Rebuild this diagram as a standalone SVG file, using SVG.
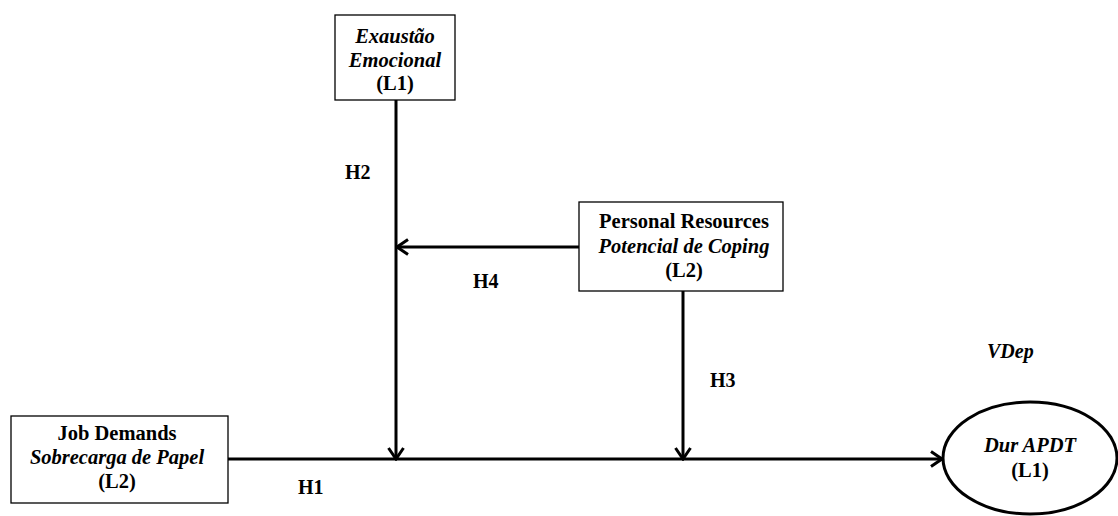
<svg xmlns="http://www.w3.org/2000/svg" width="1118" height="516" viewBox="0 0 1118 516">
<style>
.box{fill:#fff;stroke:#000;stroke-width:1.3}
.t{font-family:"Liberation Serif",serif;font-size:20.5px;font-weight:bold;text-anchor:middle;fill:#000}
.i{font-style:italic}
.ln{stroke:#000;stroke-width:3;fill:none}
.lbl{font-family:"Liberation Serif",serif;font-size:20px;font-weight:bold;fill:#000}
</style>
<defs>
<marker id="ah" viewBox="0 0 16 18" refX="14" refY="9" markerWidth="16" markerHeight="18" markerUnits="userSpaceOnUse" orient="auto">
<path d="M3,1.5 L14,9 L3,16.5" fill="none" stroke="#000" stroke-width="3"/>
</marker>
</defs>
<rect width="1118" height="516" fill="#fff"/>
<g id="connectors">
<line class="ln" x1="228" y1="459" x2="942" y2="459" marker-end="url(#ah)"/>
<line class="ln" x1="396" y1="100" x2="396" y2="459" marker-end="url(#ah)"/>
<line class="ln" x1="579" y1="247" x2="397" y2="247" marker-end="url(#ah)"/>
<line class="ln" x1="683" y1="291" x2="683" y2="459" marker-end="url(#ah)"/>
<text class="lbl" x="345" y="179">H2</text>
<text class="lbl" x="473" y="288">H4</text>
<text class="lbl" x="710" y="387">H3</text>
<text class="lbl" x="298" y="494">H1</text>
</g>
<g id="exaustao">
<rect class="box" x="335" y="15" width="120" height="85"/>
<text class="t i" x="395" y="43">Exaustão</text>
<text class="t i" x="395" y="67">Emocional</text>
<text class="t" x="395" y="90">(L1)</text>
</g>
<g id="personal">
<rect class="box" x="579" y="202" width="204" height="89"/>
<text class="t" x="684" y="228">Personal Resources</text>
<text class="t i" x="684" y="253">Potencial de Coping</text>
<text class="t" x="684" y="277">(L2)</text>
</g>
<g id="jobdemands">
<rect class="box" x="11" y="416" width="217" height="87"/>
<text class="t" x="117" y="440">Job Demands</text>
<text class="t i" x="117" y="464">Sobrecarga de Papel</text>
<text class="t" x="117" y="488">(L2)</text>
</g>
<g id="durapdt">
<text class="lbl i" x="987" y="358">VDep</text>
<ellipse cx="1030" cy="458" rx="87" ry="56" fill="#fff" stroke="#000" stroke-width="3"/>
<text class="t i" x="1030" y="452">Dur APDT</text>
<text class="t" x="1030" y="477">(L1)</text>
</g>
</svg>
